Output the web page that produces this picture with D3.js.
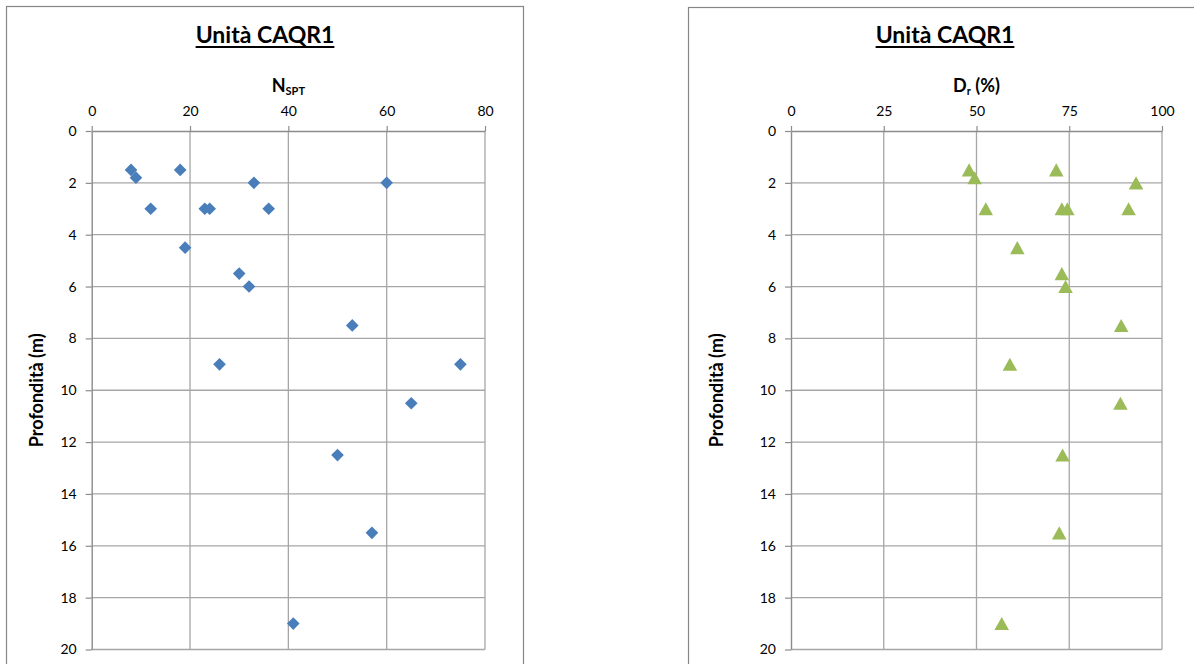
<!DOCTYPE html>
<html>
<head>
<meta charset="utf-8">
<script src="https://cdn.jsdelivr.net/npm/d3@7"></script>
<style>
  html, body { margin: 0; padding: 0; background: #ffffff; }
  svg { display: block; }
  text { font-family: Lato, "Open Sans", sans-serif; fill: #000; }
</style>
</head>
<body>
<svg id="chart" width="1194" height="664"></svg>
<script>
// Unità CAQR1 — NSPT and relative density (Dr) against depth
const chartTitle = "Unità CAQR1";
const depthTitle = "Profondità (m)";

// Depth ticks (m), shared by both panels
const depthTicks = [0, 2, 4, 6, 8, 10, 12, 14, 16, 18, 20];

// NSPT panel
const nsptTicks = [0, 20, 40, 60, 80];
const nsptDepth = [1.5, 1.8, 1.5, 2, 2, 3, 3, 3, 3, 4.5, 5.5, 6, 7.5, 9, 9, 10.5, 12.5, 15.5, 19];
const nsptValue = [8, 9, 18, 33, 60, 12, 23, 24, 36, 19, 30, 32, 53, 26, 75, 65, 50, 57, 41];

// Dr panel
const drTicks = [0, 25, 50, 75, 100];
const drDepth = [1.5, 1.8, 1.5, 2, 3, 3, 3, 3, 4.5, 5.5, 6, 7.5, 9, 10.5, 12.5, 15.5, 19];
const drValue = [48, 49.5, 71.5, 93, 52.5, 73, 74.5, 91, 61, 73, 74, 89, 59, 88.8, 73.2, 72.3, 56.8];

const svg = d3.select("#chart");

// Square turned 45° (marker for NSPT)
const diamondSymbol = {
  draw(ctx, size) {
    const r = Math.sqrt(size / 2);
    ctx.moveTo(0, -r); ctx.lineTo(r, 0); ctx.lineTo(0, r); ctx.lineTo(-r, 0); ctx.closePath();
  }
};
// Triangle centred on its bounding box (marker for Dr)
const triangleSymbol = {
  draw(ctx, size) {
    const w = Math.sqrt(size * 2 / 0.9);
    const h = w * 0.9;
    ctx.moveTo(0, -h / 2); ctx.lineTo(w / 2, h / 2); ctx.lineTo(-w / 2, h / 2); ctx.closePath();
  }
};

function panel(cfg) {
  const g = svg.append("g");

  // chart frame
  g.append("rect")
    .attr("x", cfg.frame[0] + 0.5).attr("y", cfg.frame[1] + 0.5)
    .attr("width", cfg.frame[2]).attr("height", cfg.frame[3])
    .attr("fill", "#fff").attr("stroke", "#868686").attr("stroke-width", 1.2);

  const x = d3.scaleLinear().domain(cfg.xDomain).range([cfg.plot[0], cfg.plot[1]]);
  const y = d3.scaleLinear().domain([0, 20]).range([cfg.plot[2], cfg.plot[3]]);

  // title, underlined
  const cx = (cfg.plot[0] + cfg.plot[1]) / 2;
  const cy = (cfg.plot[2] + cfg.plot[3]) / 2;
  const t = g.append("text")
    .attr("x", cfg.titleX).attr("y", 43)
    .attr("text-anchor", "middle")
    .style("font-size", "23px").style("font-weight", "bold")
    .text(chartTitle);
  const bb = t.node().getBBox();
  g.append("line")
    .attr("x1", bb.x).attr("x2", bb.x + bb.width)
    .attr("y1", 47).attr("y2", 47)
    .attr("stroke", "#000").attr("stroke-width", 1.8);

  // grid
  g.append("g").selectAll("line").data(cfg.xTicks.slice(1)).join("line")
    .attr("x1", d => x(d)).attr("x2", d => x(d))
    .attr("y1", y(0)).attr("y2", y(20))
    .attr("stroke", "#a6a6a6").attr("stroke-width", 1.3);
  g.append("g").selectAll("line").data(depthTicks.slice(1)).join("line")
    .attr("x1", x(cfg.xDomain[0])).attr("x2", x(cfg.xDomain[1]))
    .attr("y1", d => y(d)).attr("y2", d => y(d))
    .attr("stroke", "#a6a6a6").attr("stroke-width", 1.3);

  // top axis
  const top = g.append("g").attr("transform", `translate(0,${y(0)})`)
    .call(d3.axisTop(x).tickValues(cfg.xTicks).tickSize(5).tickPadding(10).tickSizeOuter(0));
  // left axis
  const left = g.append("g").attr("transform", `translate(${x(cfg.xDomain[0])},0)`)
    .call(d3.axisLeft(y).tickValues(depthTicks).tickSize(6).tickPadding(9).tickSizeOuter(0));
  [top, left].forEach(a => {
    a.select(".domain").attr("stroke", "#8c8c8c").attr("stroke-width", 1.4);
    a.selectAll(".tick line").attr("stroke", "#8c8c8c").attr("stroke-width", 1.2);
    a.selectAll(".tick text").style("font-size", "14px").style("font-family", "Lato, 'Open Sans', sans-serif").attr("fill", "#111");
  });

  // x-axis title
  const xt = g.append("text")
    .attr("x", cx).attr("y", 92)
    .attr("text-anchor", "middle")
    .style("font-size", "18px").style("font-weight", "bold");
  xt.append("tspan").text(cfg.xTitle[0]);
  xt.append("tspan").attr("dy", 3).style("font-size", "11px").text(cfg.xTitle[1]);
  if (cfg.xTitle[2]) xt.append("tspan").attr("dy", -3).text(cfg.xTitle[2]);

  // y-axis title
  g.append("text")
    .attr("transform", `translate(${cfg.yTitleX},${cy}) rotate(-90)`)
    .attr("text-anchor", "middle")
    .attr("dy", "0.35em")
    .style("font-size", "18px").style("font-weight", "bold")
    .text(depthTitle);

  // markers
  g.append("g").selectAll("path").data(cfg.values).join("path")
    .attr("transform", (d, i) => `translate(${x(d)},${y(cfg.depths[i])})`)
    .attr("d", d3.symbol().type(cfg.symbol).size(cfg.symbolSize))
    .attr("fill", cfg.color);
}

panel({
  frame: [6, 6, 517, 680],
  plot: [91.7, 485, 131, 649.5],
  titleX: 265,
  yTitleX: 37,
  xDomain: [0, 80],
  xTicks: nsptTicks,
  xTitle: ["N", "SPT"],
  values: nsptValue,
  depths: nsptDepth,
  symbol: diamondSymbol,
  symbolSize: 80,
  color: "#4a7ebb"
});

panel({
  frame: [688, 7, 520, 680],
  plot: [791, 1162, 131, 649.5],
  titleX: 945,
  yTitleX: 717,
  xDomain: [0, 100],
  xTicks: drTicks,
  xTitle: ["D", "r", " (%)"],
  values: drValue,
  depths: drDepth,
  symbol: triangleSymbol,
  symbolSize: 95,
  color: "#9bbb59"
});
</script>
</body>
</html>
